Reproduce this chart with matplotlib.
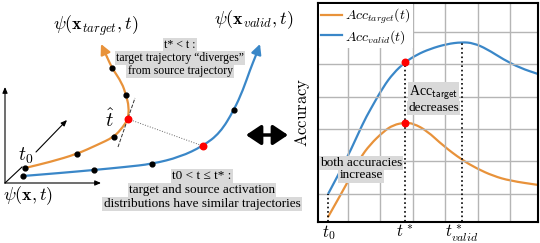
import numpy as np
import matplotlib
matplotlib.use("Agg")
import matplotlib.pyplot as plt
from matplotlib.patches import FancyArrowPatch, PathPatch
from matplotlib.path import Path
from matplotlib.lines import Line2D

plt.rcParams['mathtext.fontset'] = 'cm'

ORANGE = '#e8923a'
BLUE = '#3a87c8'
BOX = '#d9d9d9'
TXT_FONT = 'Liberation Serif'

# ---- left sketch (image coordinates, y down) ----
target_x = [25, 50, 77, 97, 114, 123, 128, 129, 126, 122, 112, 107, 103]
target_y = [168, 162, 154, 145, 137, 127, 119, 107, 95, 83, 68, 57, 48]
target_dots = [0, 2, 4, 8, 10]
target_red = 6

valid_x = [23, 60, 94, 125, 152, 180, 203, 220, 234, 243, 250, 256, 258]
valid_y = [176, 173, 170, 167, 164, 157, 146, 133, 110, 90, 70, 55, 50]
valid_dots = [0, 2, 4, 8]
valid_red = 6

# ---- right plot (grid units) ----
acc_valid_t = [-0.61, -0.02, 0.46, 0.68, 1.09, 1.40, 1.76, 2.12, 2.53, 3.04, 3.51, 3.87, 4.28, 4.80, 5.31, 5.87]
acc_valid = [0.0, 1.12, 2.18, 2.59, 3.31, 3.73, 4.07, 4.30, 4.48, 4.63, 4.69, 4.66, 4.48, 4.15, 3.89, 3.70]
acc_target_t = [-0.61, -0.03, 0.37, 0.68, 1.09, 1.40, 1.76, 2.02, 2.43, 2.94, 3.51, 3.97, 4.48, 5.00, 5.87]
acc_target = [-0.71, 0.32, 1.10, 1.52, 1.92, 2.13, 2.20, 2.17, 1.95, 1.48, 1.05, 0.78, 0.55, 0.40, 0.27]
t0, t_star, t_valid = -0.61, 1.76, 3.51
tick_labels = [r'$t_0$', r'$t^*$', r'$t^*_{valid}$']


def smooth(a, xs, ys, **kw):
    # quadratic bezier chain through the midpoints of the read points
    pts = np.column_stack([xs, ys]).astype(float)
    verts = [pts[0], (pts[0] + pts[1]) / 2]
    codes = [Path.MOVETO, Path.LINETO]
    for i in range(1, len(pts) - 1):
        verts += [pts[i], (pts[i] + pts[i + 1]) / 2]
        codes += [Path.CURVE3, Path.CURVE3]
    verts.append(pts[-1])
    codes.append(Path.LINETO)
    a.add_patch(PathPatch(Path(verts, codes), fill=False, capstyle='round', **kw))


def arrow(a, p0, p1, lw=0.8, style='-|>,head_length=0.35,head_width=0.15', color='black'):
    a.add_patch(FancyArrowPatch(p0, p1, arrowstyle=style, mutation_scale=10,
                                lw=lw, color=color, shrinkA=0, shrinkB=0))


fig = plt.figure(figsize=(5.4, 2.43), dpi=100)
ax0 = fig.add_axes([0, 0, 1, 1])
ax0.set_xlim(0, 540)
ax0.set_ylim(243, 0)
ax0.axis('off')

# coordinate axes of the sketch
arrow(ax0, (5, 183), (5, 87))
arrow(ax0, (5, 183), (101, 183))
ax0.plot([5, 22], [183, 167], color='black', lw=0.8)
arrow(ax0, (36, 152), (67, 120))

# trajectories
smooth(ax0, target_x[:-1], target_y[:-1], edgecolor=ORANGE, lw=1.6)
arrow(ax0, (target_x[-2], target_y[-2]), (101, 44), lw=1.6, color=ORANGE,
      style='-|>,head_length=0.6,head_width=0.3')
smooth(ax0, valid_x[:-1], valid_y[:-1], edgecolor=BLUE, lw=1.6)
arrow(ax0, (valid_x[-2], valid_y[-2]), (260, 44), lw=1.6, color=BLUE,
      style='-|>,head_length=0.6,head_width=0.3')

ax0.plot([target_x[target_red], valid_x[valid_red]], [target_y[target_red], valid_y[valid_red]],
         ls=':', color='#666666', lw=0.7)
ax0.plot([118, 135], [147, 98], ls='--', color='#333333', lw=0.7)

ax0.scatter([target_x[i] for i in target_dots], [target_y[i] for i in target_dots], s=12, color='black', zorder=5)
ax0.scatter([valid_x[i] for i in valid_dots], [valid_y[i] for i in valid_dots], s=12, color='black', zorder=5)
ax0.scatter([target_x[target_red], valid_x[valid_red]], [target_y[target_red], valid_y[valid_red]],
            s=22, color='red', zorder=6)

ax0.text(28, 196, r'$\psi(\mathbf{x},t)$', fontsize=13, ha='center', va='center')
ax0.text(96, 26, r'$\psi(\mathbf{x}_{target},t)$', fontsize=13, ha='center', va='center')
ax0.text(254, 20, r'$\psi(\mathbf{x}_{valid},t)$', fontsize=13, ha='center', va='center')
ax0.text(26, 156, r'$t_0$', fontsize=14, ha='center', va='center')
ax0.text(110, 120, r'$\hat{t}$', fontsize=15, ha='center', va='center')

bb = dict(boxstyle='square,pad=0.1', facecolor=BOX, edgecolor='none')
for txt, y in [('t* < t :', 45), ('target trajectory \u201cdiverges\u201d', 58), ('from source trajectory', 71)]:
    ax0.text(180, y, txt, fontsize=8.5, family=TXT_FONT, ha='center', va='center', bbox=bb)
for txt, y in [('t0 < t \u2264 t* :', 176), ('target and source activation', 190),
               ('distributions have similar trajectories', 204)]:
    ax0.text(202, y, txt, fontsize=9.5, family=TXT_FONT, ha='center', va='center', bbox=bb)

arrow(ax0, (246, 135), (288, 135), lw=2.5, style='<|-|>,head_length=0.9,head_width=0.6')

# ---- right accuracy plot ----
ax = fig.add_axes([318 / 540, 21.5 / 243, 220 / 540, 218.5 / 243])
smooth(ax, acc_target_t, acc_target, edgecolor=ORANGE, lw=1.6)
smooth(ax, acc_valid_t, acc_valid, edgecolor=BLUE, lw=1.6)
ax.set_xlim(-0.926, 5.86)
ax.set_ylim(-0.86, 5.90)

ax.plot([t0, t0], [-1, acc_valid[0]], ls=':', color='black', lw=1.2)
ax.plot([t_star, t_star], [-1, acc_valid[6]], ls=':', color='black', lw=1.2)
ax.plot([t_valid, t_valid], [-1, acc_valid[10]], ls=':', color='black', lw=1.2)
ax.scatter([t_star, t_star], [acc_valid[6], acc_target[6]], s=22, color='red', zorder=5)

ax.set_xticks(range(6), minor=True)
ax.set_yticks(range(6), minor=True)
ax.set_xticks([t0, t_star, t_valid])
ax.set_xticklabels(tick_labels, fontsize=12)
ax.set_yticks([])
ax.grid(which='minor', color='#b5b5b5', lw=1)
ax.tick_params(which='both', length=0, pad=1)
for s in ax.spines.values():
    s.set_linewidth(1.5)
ax.set_ylabel(r'$\mathrm{Accuracy}$', fontsize=12, labelpad=3)

handles = [Line2D([], [], color=ORANGE, lw=1.6), Line2D([], [], color=BLUE, lw=1.6)]
ax.legend(handles, [r'$Acc_{target}(t)$', r'$Acc_{valid}(t)$'], loc='upper left', fontsize=10,
          frameon=True, fancybox=False, edgecolor='none', facecolor='white', framealpha=1,
          handlelength=1.5, handletextpad=0.2, borderpad=0.15, borderaxespad=0.1, labelspacing=0.15)

ax.text(2.64, 3.12, r'Acc$_{\mathsf{target}}$', fontsize=10, family=TXT_FONT,
        ha='center', va='center', bbox=bb)
ax.text(2.64, 2.65, 'decreases', fontsize=9.5, family=TXT_FONT, ha='center', va='center', bbox=bb)
ax.text(0.4, 0.95, 'both accuracies', fontsize=9.5, family=TXT_FONT, ha='center', va='center', bbox=bb)
ax.text(0.4, 0.57, 'increase', fontsize=9.5, family=TXT_FONT, ha='center', va='center', bbox=bb)

fig.savefig('out.png', dpi=100)
